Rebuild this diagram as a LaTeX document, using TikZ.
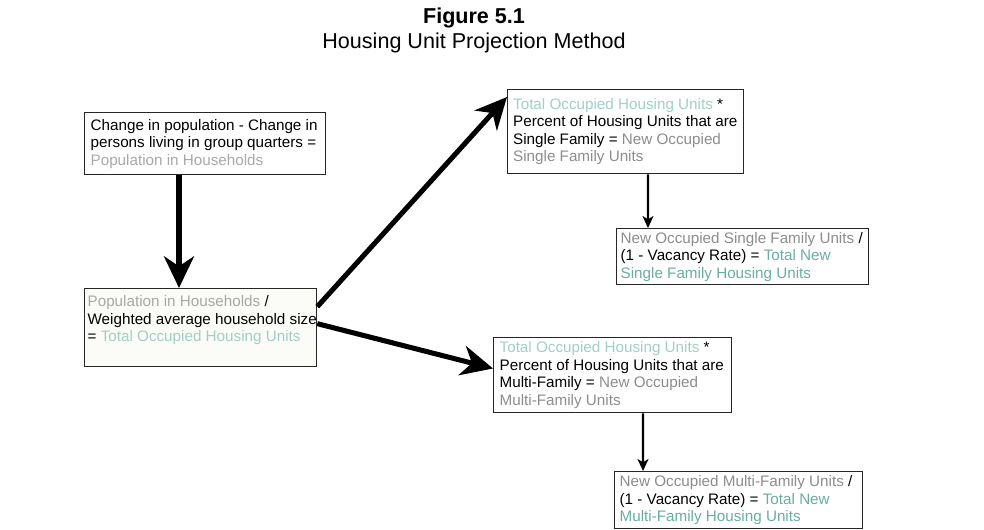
\documentclass[tikz,border=0pt]{standalone}
\usepackage{fontspec}
\setmainfont{Liberation Sans}
\usepackage{tikz}
\usetikzlibrary{arrows.meta}

\definecolor{popgray}{RGB}{168,168,168}
\definecolor{newgray}{RGB}{140,140,140}
\definecolor{occteal}{RGB}{160,207,198}
\definecolor{totteal}{RGB}{104,174,160}
\definecolor{boxcream}{RGB}{251,251,248}

\begin{document}
\begin{tikzpicture}[x=0.03cm, y=-0.03cm,
		box_style/.style={draw=black!85, line width=1.1pt, anchor=north west, align=flush left,
			inner ysep=0pt, font=\fontsize{13}{15}\selectfont},
		title_style/.style={font=\fontsize{18.4}{22}\selectfont},
		thick_edge/.style={draw=black, line width=4.3pt,
			-{Stealth[length=0.95cm, width=0.9cm, inset=0.3cm]}},
		thin_edge/.style={draw=black, line width=2.1pt,
			-{Stealth[length=0.36cm, width=0.33cm, inset=0.1cm]}}]

	\useasboundingbox (0,0) rectangle (984,529);

	\node[title_style] (t0) at (474,18) {\textbf{Figure 5.1}};
	\node[title_style] (t1) at (474,43) {Housing Unit Projection Method};

	\node[box_style, inner xsep=0.18cm, text width=6.87cm, minimum height=1.86cm] (n0) at (84,112)
		{Change in population - Change in\\ persons living in group quarters =\\
		\textcolor{popgray}{Population in Households}};
	\node[box_style, fill=boxcream, inner xsep=0.09cm, text width=6.78cm, minimum height=2.34cm] (n1) at (84,288)
		{\textcolor{popgray}{Population in Households} /\\ \mbox{Weighted average household size}\\
		= \textcolor{occteal}{Total Occupied Housing Units}\\ ~};
	\node[box_style, inner xsep=0.165cm, text width=6.75cm, minimum height=2.52cm] (n2) at (507,89)
		{\textcolor{occteal}{Total Occupied Housing Units} *\\ Percent of Housing Units that are\\
		Single Family = \textcolor{newgray}{New Occupied}\\ \textcolor{newgray}{Single Family Units}};
	\node[box_style, inner xsep=0.12cm, text width=7.32cm, minimum height=1.68cm] (n3) at (616,228)
		{\textcolor{newgray}{New Occupied Single Family Units} /\\ (1 - Vacancy Rate) = \textcolor{totteal}{Total New}\\
		\textcolor{totteal}{Single Family Housing Units}};
	\node[box_style, inner xsep=0.18cm, text width=6.78cm, minimum height=2.25cm] (n4) at (493,337)
		{\textcolor{occteal}{Total Occupied Housing Units} *\\ Percent of Housing Units that are\\
		Multi-Family = \textcolor{newgray}{New Occupied}\\ \textcolor{newgray}{Multi-Family Units}};
	\node[box_style, inner xsep=0.15cm, text width=7.14cm, minimum height=1.71cm] (n5) at (614,471)
		{\textcolor{newgray}{New Occupied Multi-Family Units} /\\ (1 - Vacancy Rate) = \textcolor{totteal}{Total New}\\
		\textcolor{totteal}{Multi-Family Housing Units}};

	\draw[thick_edge] ([xshift=2.85cm]n0.south west) -- ([xshift=2.85cm]n1.north west);
	\draw[thick_edge] ([yshift=-0.56cm]n1.north east) -- ([yshift=-0.24cm]n2.north west);
	\draw[thick_edge] ([yshift=0.12cm]n1.east) -- ([yshift=0.2cm]n4.west);
	\draw[thin_edge] ([xshift=4.23cm]n2.south west) -- ([xshift=0.96cm]n3.north west);
	\draw[thin_edge] ([xshift=4.5cm]n4.south west) -- ([xshift=0.87cm]n5.north west);
\end{tikzpicture}
\end{document}
